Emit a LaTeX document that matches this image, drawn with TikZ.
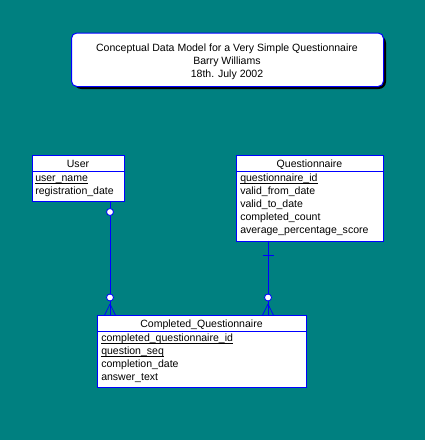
\documentclass[tikz,border=0pt]{standalone}
\usepackage{fontspec}
\setmainfont{Liberation Sans}
\newcommand\keyul[1]{\setbox0\hbox{#1}\rlap{\rule[-1.5pt]{\wd0}{0.55pt}}\box0}
\begin{document}
\begin{tikzpicture}[x=0.75pt,y=-0.75pt,
  ent/.style={draw=blue, fill=white, line width=0.75pt, rectangle, inner sep=0pt, anchor=north west},
  txt/.style={inner sep=0pt, font=\fontsize{7.9}{9}\selectfont},
  attr/.style={txt, anchor=base west},
  hdr/.style={txt, anchor=base},
  sep/.style={draw=blue, line width=0.75pt},
  rel/.style={draw=blue, line width=0.65pt},
  opt/.style={circle, draw=blue, fill=white, line width=0.6pt, inner sep=0pt, minimum size=5.2pt},
  crow/.style={draw=blue, line width=0.55pt}]
\useasboundingbox (0,0) rectangle (425,440);
\fill[fill={rgb,255:red,0;green,128;blue,128}] (0,0) rectangle (425,440);
% title box
\fill[black, rounded corners=5.5pt] (74,35.5) rectangle (386,89);
\node[draw=blue, fill=white, line width=0.75pt, rounded corners=4pt, anchor=north west, inner sep=0pt,
  minimum width=312*0.75pt, minimum height=53.5*0.75pt] (title) at (71,32.5) {};
\node[hdr] (t1) at (227,51.7) {Conceptual Data Model for a Very Simple Questionnaire};
\node[hdr] (t2) at (227,64.5) {Barry Williams};
\node[hdr] (t3) at (227,77) {18th. July 2002};
% User
\node[ent, minimum width=92*0.75pt, minimum height=46*0.75pt] (user) at (32,155) {};
\draw[sep] (32,171.5) -- (124,171.5);
\node[hdr] (uh) at (78,167) {User};
\node[attr] (u1) at (35,181.7) {\keyul{user\_name}};
\node[attr] (u2) at (35,194.7) {registration\_date};
% Questionnaire
\node[ent, minimum width=147*0.75pt, minimum height=85.5*0.75pt] (quest) at (236,155) {};
\draw[sep] (236,171.5) -- (383,171.5);
\node[hdr] (qh) at (309.5,167) {Questionnaire};
\node[attr] (q1) at (240,181.7) {\keyul{questionnaire\_id}};
\node[attr] (q2) at (240,194.7) {valid\_from\_date};
\node[attr] (q3) at (240,207.7) {valid\_to\_date};
\node[attr] (q4) at (240,220.7) {completed\_count};
\node[attr] (q5) at (240,233.7) {average\_percentage\_score};
% Completed_Questionnaire
\node[ent, minimum width=208.5*0.75pt, minimum height=72*0.75pt] (cq) at (97.3,315.3) {};
\draw[sep] (97.3,331.5) -- (305.8,331.5);
\node[hdr] (ch) at (201.5,327.3) {Completed\_Questionnaire};
\node[attr] (c1) at (101,341.7) {\keyul{completed\_questionnaire\_id}};
\node[attr] (c2) at (101,354.7) {\keyul{question\_seq}};
\node[attr] (c3) at (101,367.7) {completion\_date};
\node[attr] (c4) at (101,380.7) {answer\_text};
% relationship User - CQ
\coordinate (ua) at (110,201);
\coordinate (ub) at (110,315.3);
\coordinate (uapex) at (110,304);
\draw[rel] (ua) -- (ub);
\draw[crow] (uapex) -- (104.5,315.3) (uapex) -- (115.5,315.3);
\node[opt] (uo1) at (110,212) {};
\node[opt] (uo2) at (110,297.5) {};
% relationship Questionnaire - CQ
\coordinate (qa) at (268,240.5);
\coordinate (qb) at (268,315.3);
\coordinate (qapex) at (268,304);
\draw[rel] (qa) -- (qb);
\draw[crow] (262.5,255.3) -- (273.5,255.3);
\draw[crow] (qapex) -- (262.5,315.3) (qapex) -- (273.5,315.3);
\node[opt] (qo2) at (268,297.5) {};
\end{tikzpicture}
\end{document}
